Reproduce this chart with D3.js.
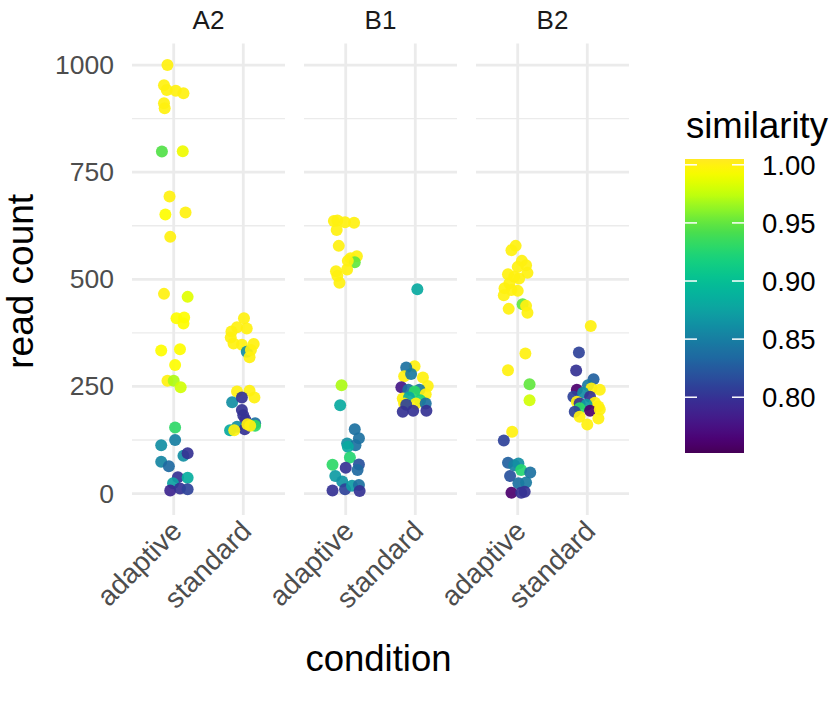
<!DOCTYPE html>
<html><head><meta charset="utf-8">
<script src="https://cdn.jsdelivr.net/npm/d3@7"></script>
<style>body{margin:0;background:#fff;} text{font-family:"Liberation Sans",Arial,sans-serif;}</style>
</head><body>
<svg id="chart" width="834" height="708"></svg>
<script>
// ---- data ----
const facets = ["A2", "B1", "B2"];
const conditions = ["adaptive", "standard"];
const yTicks = [0, 250, 500, 750, 1000];
const yMinor = [125, 375, 625, 875];
const legendTicks = [0.80, 0.85, 0.90, 0.95, 1.00];
const simRange = [0.752, 1.005];
// each point: [jitter (category units), read count, similarity]
const A2_adaptive = [
 [-0.09,1000,1.0],[-0.14,953,1.0],[-0.10,942,1.0],[0.03,940,1.0],[0.14,934,1.0],
 [-0.14,911,1.0],[-0.13,899,1.0],[-0.17,798,0.945],[0.13,799,0.99],[-0.06,693,1.0],
 [-0.12,651,0.995],[0.17,656,1.0],[-0.05,599,1.0],[-0.14,466,1.0],[0.20,459,0.985],
 [0.04,409,0.995],[0.15,411,0.995],[0.14,397,0.995],[-0.18,334,0.995],[0.09,337,0.995],
 [0.02,300,0.995],[-0.09,263,1.0],[0.00,263,0.97],[0.10,248,0.98],[0.02,154,0.93],
 [-0.18,113,0.86],[0.02,125,0.85],[0.14,88,0.86],[0.20,94,0.80],[-0.18,74,0.855],
 [-0.07,64,0.835],[0.06,38,0.80],[0.20,37,0.885],[-0.01,24,0.875],[-0.05,7,0.79],
 [0.09,12,0.80],[0.20,10,0.81]
];
const A2_standard = [
 [0.01,409,1.0],[-0.09,388,1.0],[0.05,385,1.0],[-0.17,378,1.0],[-0.18,364,1.0],
 [-0.14,350,1.0],[-0.02,347,1.0],[0.05,331,0.86],[0.15,349,1.0],[0.11,335,1.0],
 [0.09,318,1.0],[-0.09,238,1.0],[0.09,240,1.0],[0.16,224,1.0],[-0.16,213,0.86],
 [-0.02,224,0.80],[-0.02,195,0.80],[0.00,183,0.80],[0.03,172,0.80],[-0.19,148,0.88],
 [-0.09,156,0.86],[0.17,164,0.84],[0.02,150,0.80],[0.06,162,1.0],[0.17,158,0.93],
 [-0.13,148,1.0],[0.10,158,1.0]
];
const B1_adaptive = [
 [-0.17,636,1.0],[-0.12,637,1.0],[-0.01,633,1.0],[0.12,632,1.0],[-0.13,615,1.0],
 [-0.10,578,1.0],[0.16,554,1.0],[0.07,549,1.0],[0.13,540,0.95],[0.03,543,1.0],
 [0.02,523,1.0],[-0.14,519,1.0],[-0.12,508,1.0],[-0.09,492,1.0],[-0.06,253,0.97],
 [-0.08,206,0.88],[0.13,150,0.84],[0.19,129,0.84],[0.02,117,0.86],[0.14,113,0.84],
 [0.03,109,0.88],[0.06,84,0.925],[-0.19,67,0.93],[0.00,60,0.80],[0.19,68,0.82],
 [0.17,55,0.835],[-0.15,41,0.87],[-0.05,28,0.865],[-0.19,7,0.80],[-0.01,10,0.81],
 [0.09,18,0.87],[0.19,20,0.84],[0.20,6,0.80]
];
const B1_standard = [
 [0.03,477,0.88],[-0.01,297,1.0],[-0.13,294,0.84],[-0.16,274,1.0],[-0.06,279,0.845],
 [0.11,271,1.0],[0.18,251,1.0],[-0.20,248,0.78],[-0.10,242,0.84],[0.06,242,0.845],
 [-0.01,238,0.93],[0.15,232,1.0],[-0.18,222,1.0],[-0.09,224,0.88],[0.07,218,0.92],
 [0.01,210,1.0],[-0.16,210,1.0],[-0.13,207,0.81],[0.15,210,0.84],[-0.18,191,0.80],
 [-0.03,193,0.80],[0.16,193,0.80]
];
const B2_adaptive = [
 [-0.03,578,1.0],[-0.09,568,1.0],[0.06,543,1.0],[0.12,533,1.0],[0.00,529,1.0],
 [0.14,515,1.0],[-0.14,512,1.0],[-0.05,506,1.0],[0.02,502,1.0],[-0.12,491,1.0],
 [-0.19,479,1.0],[-0.09,475,1.0],[0.00,473,1.0],[-0.20,463,1.0],[0.07,442,0.95],
 [0.12,438,1.0],[-0.13,431,1.0],[0.14,422,1.0],[0.11,327,1.0],[-0.14,288,1.0],
 [0.17,255,0.95],[0.17,218,0.98],[-0.08,144,1.0],[-0.20,124,0.81],[-0.14,72,0.83],
 [-0.05,66,0.85],[0.01,70,0.86],[0.05,55,0.925],[0.18,49,0.84],[-0.11,41,0.82],
 [0.01,24,0.84],[0.12,26,0.845],[-0.09,2,0.76],[0.05,2,0.80],[0.10,4,0.80]
];
const B2_standard = [
 [0.05,391,1.0],[-0.12,329,0.81],[-0.16,287,0.80],[0.09,267,0.83],[0.01,253,0.845],
 [0.06,245,1.0],[-0.15,242,0.76],[0.18,242,1.0],[-0.20,226,0.81],[-0.06,235,0.86],
 [0.04,226,0.80],[-0.15,214,1.0],[0.11,212,1.0],[-0.11,210,0.80],[-0.01,207,0.87],
 [0.16,203,1.0],[-0.11,199,0.93],[0.04,193,0.76],[-0.18,191,0.81],[0.18,196,1.0],
 [-0.11,179,1.0],[0.16,175,1.0],[0.00,161,1.0]
];
const panelData = {
  A2: {adaptive: A2_adaptive, standard: A2_standard},
  B1: {adaptive: B1_adaptive, standard: B1_standard},
  B2: {adaptive: B2_adaptive, standard: B2_standard}
};

// ---- layout ----
const svg = d3.select("#chart");
const panelX0 = 132, panelW = 153, panelGap = 19;
const panelTop = 43.6, panelBottom = 515;
const y = d3.scaleLinear().domain([-50, 1050]).range([panelBottom, panelTop]);
const x = d3.scalePoint().domain(conditions).range([0, panelW]).padding(0.6);
const unit = x.step();
function vivid(c) { const h = d3.hsl(c); h.s = Math.min(1, h.s * 1.4); return h.formatHex(); }
const viridisVivid = t => vivid(d3.interpolateViridis(t));
const color = d3.scaleSequential(viridisVivid).domain(simRange);
const gridCol = "#EBEBEB";

// y axis labels
const yAxisG = svg.append("g").attr("transform", `translate(${panelX0},0)`);
yAxisG.call(d3.axisLeft(y).tickValues(yTicks).tickFormat(d3.format("d")).tickSize(0).tickPadding(18))
  .call(g => g.select(".domain").remove())
  .selectAll("text").attr("font-size", 26.5).attr("fill", "#4D4D4D")
  .attr("font-family", "Liberation Sans, Arial, sans-serif");

facets.forEach((f, i) => {
  const px = panelX0 + i * (panelW + panelGap);
  const g = svg.append("g").attr("transform", `translate(${px},0)`);
  g.selectAll(".minor").data(yMinor).join("line")
    .attr("x1", 0).attr("x2", panelW).attr("y1", d => y(d)).attr("y2", d => y(d))
    .attr("stroke", gridCol).attr("stroke-width", 1.4);
  g.selectAll(".major").data(yTicks).join("line")
    .attr("x1", 0).attr("x2", panelW).attr("y1", d => y(d)).attr("y2", d => y(d))
    .attr("stroke", gridCol).attr("stroke-width", 2.8);
  g.selectAll(".vgrid").data(conditions).join("line")
    .attr("x1", d => x(d)).attr("x2", d => x(d)).attr("y1", panelTop).attr("y2", panelBottom)
    .attr("stroke", gridCol).attr("stroke-width", 2.8);
  g.append("text").attr("x", panelW / 2).attr("y", 29).attr("text-anchor", "middle")
    .attr("font-size", 26).attr("fill", "#1A1A1A").text(f);
  conditions.forEach(c => {
    g.append("g").selectAll("circle").data(panelData[f][c]).join("circle")
      .attr("cx", d => x(c) + d[0] * unit)
      .attr("cy", d => y(d[1]))
      .attr("r", 6)
      .attr("fill", d => color(d[2]))
      .attr("fill-opacity", 0.92);
  });
  g.selectAll(".xl").data(conditions).join("text")
    .attr("transform", d => `translate(${x(d) - 5},${panelBottom + 3}) rotate(-45)`)
    .attr("text-anchor", "end").attr("dy", "0.75em")
    .attr("font-size", 28).attr("fill", "#4D4D4D").text(d => d);
});

svg.append("text").attr("x", panelX0 + (3 * panelW + 2 * panelGap) / 2 - 2).attr("y", 671)
  .attr("text-anchor", "middle").attr("font-size", 36.5).attr("fill", "#000").text("condition");
svg.append("text").attr("transform", `translate(33,${(panelTop + panelBottom) / 2 + 2}) rotate(-90)`)
  .attr("text-anchor", "middle").attr("font-size", 37).attr("fill", "#000").text("read count");

// legend
const lgX = 685, lgW = 59, lgTop = 159, lgBottom = 453;
const ly = d3.scaleLinear().domain(simRange).range([lgBottom, lgTop]);
const defs = svg.append("defs");
const grad = defs.append("linearGradient").attr("id", "vir").attr("x1", 0).attr("y1", 1).attr("x2", 0).attr("y2", 0);
d3.range(0, 1.0001, 0.025).forEach(t => {
  grad.append("stop").attr("offset", t).attr("stop-color", viridisVivid(t));
});
svg.append("rect").attr("x", lgX).attr("y", lgTop).attr("width", lgW).attr("height", lgBottom - lgTop)
  .attr("fill", "url(#vir)");
const lt = svg.append("g");
lt.selectAll(".tl").data(legendTicks).join("line")
  .attr("x1", lgX).attr("x2", lgX + 12).attr("y1", d => ly(d)).attr("y2", d => ly(d))
  .attr("stroke", "#fff").attr("stroke-width", 1.5);
lt.selectAll(".tr").data(legendTicks).join("line")
  .attr("x1", lgX + lgW - 12).attr("x2", lgX + lgW).attr("y1", d => ly(d)).attr("y2", d => ly(d))
  .attr("stroke", "#fff").attr("stroke-width", 1.5);
lt.selectAll("text").data(legendTicks).join("text")
  .attr("x", 762).attr("y", d => ly(d)).attr("dy", "0.36em")
  .attr("font-size", 27.5).attr("fill", "#000").text(d => d3.format(".2f")(d));
svg.append("text").attr("x", 686).attr("y", 138).attr("font-size", 36.5).attr("fill", "#000").text("similarity");
</script>
</body></html>
